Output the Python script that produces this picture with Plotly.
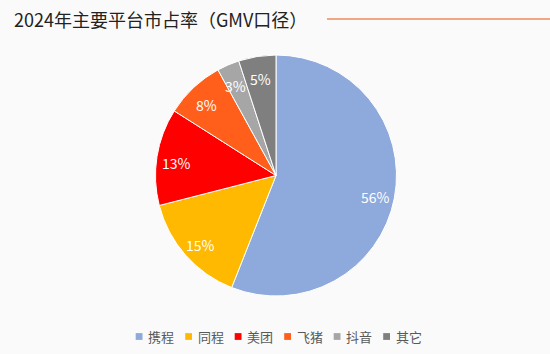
import math
import plotly.graph_objects as go

labels = ["携程", "同程", "美团", "飞猪", "抖音", "其它"]
values = [56, 15, 13, 8, 3, 5]
colors = ["#8EA9DB", "#FFB900", "#FF0000", "#FF5F1A", "#A6A6A6", "#7F7F7F"]
title_text = "2024年主要平台市占率（GMV口径）"

W, H = 550, 354
CX, CY, R = 276, 175.5, 120.5
FONT = "Noto Sans CJK SC"

fig = go.Figure(go.Pie(
    labels=labels, values=values, sort=False, direction="clockwise", rotation=0,
    marker=dict(colors=colors, line=dict(color="white", width=1)),
    textinfo="none",
    domain=dict(x=[(CX - R) / W, (CX + R) / W], y=[1 - (CY + R) / H, 1 - (CY - R) / H]),
    hoverinfo="label+percent", showlegend=False,
))

annotations = [dict(text=title_text, x=12 / W, y=1 - 19 / H, xref="paper", yref="paper",
                    xanchor="left", yanchor="middle", showarrow=False,
                    font=dict(size=18, color="#222222", family=FONT))]
shapes = [dict(type="line", xref="paper", yref="paper", x0=327 / W, x1=1, y0=1 - 19 / H, y1=1 - 19 / H,
               line=dict(color="#F08A5D", width=1.5))]

# percentage labels placed at ~0.84 of radius along each slice's mid-angle
total = sum(values)
cum = 0
for v in values:
    mid = (cum + v / 2) / total * 2 * math.pi
    cum += v
    rr = R * 0.84
    px = CX + rr * math.sin(mid)
    py = CY - rr * math.cos(mid) + 3
    annotations.append(dict(text=f"{v}%", x=px / W, y=1 - py / H, xref="paper", yref="paper",
                            xanchor="center", yanchor="middle", showarrow=False,
                            font=dict(size=14, color="white", family=FONT)))

# legend
LX0, LSTEP, LY = 135.7, 49.5, 336.5
for i, (lab, col) in enumerate(zip(labels, colors)):
    x0 = LX0 + i * LSTEP
    shapes.append(dict(type="rect", xref="paper", yref="paper",
                       x0=x0 / W, x1=(x0 + 6.8) / W, y0=1 - (LY + 3.4) / H, y1=1 - (LY - 3.4) / H,
                       fillcolor=col, line=dict(width=0)))
    annotations.append(dict(text=lab, x=(x0 + 10.5) / W, y=1 - LY / H, xref="paper", yref="paper",
                            xanchor="left", yanchor="middle", showarrow=False,
                            font=dict(size=13, color="#595959", family=FONT)))

fig.update_layout(
    width=W, height=H, margin=dict(l=0, r=0, t=0, b=0),
    paper_bgcolor="#FAFAFA", plot_bgcolor="#FAFAFA",
    font=dict(family=FONT, color="#595959"),
    showlegend=False,
    annotations=annotations, shapes=shapes,
)
fig.write_html("out.html")
